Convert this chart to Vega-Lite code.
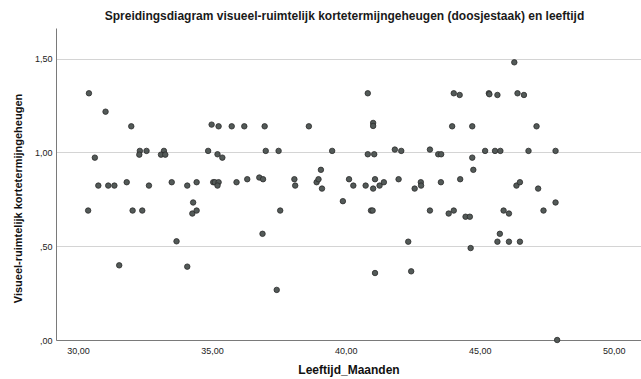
{
  "$schema": "https://vega.github.io/schema/vega-lite/v6.json",
  "width": 585,
  "height": 312,
  "autosize": {"type": "none"},
  "padding": {"left": 56, "top": 28, "right": 0, "bottom": 39},
  "background": "white",
  "config": {"view": {"stroke": null}, "font": "Liberation Sans"},
  "title": {
    "text": "Spreidingsdiagram visueel-ruimtelijk kortetermijngeheugen (doosjestaak) en leeftijd",
    "fontSize": 12,
    "fontWeight": "bold",
    "color": "#1a1a1a",
    "anchor": "middle",
    "dx": -4,
    "offset": 5
  },
  "data": {
    "values": [
      {"leeftijd": 30.41, "score": 1.315},
      {"leeftijd": 31.03, "score": 1.217},
      {"leeftijd": 31.99, "score": 1.139},
      {"leeftijd": 30.63, "score": 0.972},
      {"leeftijd": 32.31, "score": 1.008},
      {"leeftijd": 32.29, "score": 0.988},
      {"leeftijd": 32.56, "score": 1.008},
      {"leeftijd": 33.21, "score": 1.008},
      {"leeftijd": 33.10, "score": 0.988},
      {"leeftijd": 33.26, "score": 0.988},
      {"leeftijd": 34.99, "score": 1.148},
      {"leeftijd": 35.25, "score": 1.139},
      {"leeftijd": 35.74, "score": 1.139},
      {"leeftijd": 36.21, "score": 1.139},
      {"leeftijd": 34.86, "score": 1.008},
      {"leeftijd": 35.21, "score": 0.990},
      {"leeftijd": 35.39, "score": 0.972},
      {"leeftijd": 30.76, "score": 0.823},
      {"leeftijd": 31.13, "score": 0.823},
      {"leeftijd": 31.36, "score": 0.823},
      {"leeftijd": 31.82, "score": 0.841},
      {"leeftijd": 32.65, "score": 0.823},
      {"leeftijd": 33.50, "score": 0.841},
      {"leeftijd": 34.08, "score": 0.823},
      {"leeftijd": 34.43, "score": 0.841},
      {"leeftijd": 35.05, "score": 0.841},
      {"leeftijd": 35.11, "score": 0.841},
      {"leeftijd": 35.25, "score": 0.841},
      {"leeftijd": 35.21, "score": 0.823},
      {"leeftijd": 35.92, "score": 0.841},
      {"leeftijd": 36.32, "score": 0.857},
      {"leeftijd": 36.77, "score": 0.866},
      {"leeftijd": 36.91, "score": 0.857},
      {"leeftijd": 30.38, "score": 0.690},
      {"leeftijd": 32.04, "score": 0.690},
      {"leeftijd": 32.40, "score": 0.690},
      {"leeftijd": 34.30, "score": 0.733},
      {"leeftijd": 34.27, "score": 0.674},
      {"leeftijd": 34.43, "score": 0.690},
      {"leeftijd": 33.68, "score": 0.526},
      {"leeftijd": 31.54, "score": 0.398},
      {"leeftijd": 34.08, "score": 0.391},
      {"leeftijd": 36.97, "score": 1.139},
      {"leeftijd": 37.01, "score": 1.008},
      {"leeftijd": 37.49, "score": 1.008},
      {"leeftijd": 38.62, "score": 1.139},
      {"leeftijd": 39.49, "score": 1.008},
      {"leeftijd": 40.82, "score": 1.315},
      {"leeftijd": 41.02, "score": 1.157},
      {"leeftijd": 41.02, "score": 1.141},
      {"leeftijd": 40.82, "score": 0.990},
      {"leeftijd": 41.06, "score": 0.990},
      {"leeftijd": 41.83, "score": 1.015},
      {"leeftijd": 42.07, "score": 1.008},
      {"leeftijd": 43.14, "score": 1.015},
      {"leeftijd": 43.45, "score": 0.990},
      {"leeftijd": 43.56, "score": 0.990},
      {"leeftijd": 39.07, "score": 0.907},
      {"leeftijd": 37.55, "score": 0.690},
      {"leeftijd": 36.89, "score": 0.566},
      {"leeftijd": 37.42, "score": 0.267},
      {"leeftijd": 38.08, "score": 0.857},
      {"leeftijd": 38.11, "score": 0.823},
      {"leeftijd": 38.91, "score": 0.841},
      {"leeftijd": 38.98, "score": 0.857},
      {"leeftijd": 39.11, "score": 0.807},
      {"leeftijd": 39.89, "score": 0.740},
      {"leeftijd": 40.12, "score": 0.857},
      {"leeftijd": 40.28, "score": 0.823},
      {"leeftijd": 40.74, "score": 0.823},
      {"leeftijd": 40.94, "score": 0.690},
      {"leeftijd": 41.00, "score": 0.690},
      {"leeftijd": 41.09, "score": 0.857},
      {"leeftijd": 41.02, "score": 0.807},
      {"leeftijd": 41.26, "score": 0.823},
      {"leeftijd": 41.42, "score": 0.841},
      {"leeftijd": 41.09, "score": 0.357},
      {"leeftijd": 41.97, "score": 0.857},
      {"leeftijd": 42.33, "score": 0.524},
      {"leeftijd": 42.44, "score": 0.366},
      {"leeftijd": 42.57, "score": 0.807},
      {"leeftijd": 42.80, "score": 0.841},
      {"leeftijd": 42.81, "score": 0.823},
      {"leeftijd": 43.14, "score": 0.690},
      {"leeftijd": 43.55, "score": 0.841},
      {"leeftijd": 43.84, "score": 0.674},
      {"leeftijd": 46.29, "score": 1.480},
      {"leeftijd": 44.03, "score": 1.315},
      {"leeftijd": 44.25, "score": 1.306},
      {"leeftijd": 45.34, "score": 1.315},
      {"leeftijd": 45.36, "score": 1.310},
      {"leeftijd": 45.66, "score": 1.306},
      {"leeftijd": 46.41, "score": 1.315},
      {"leeftijd": 46.65, "score": 1.306},
      {"leeftijd": 43.97, "score": 1.139},
      {"leeftijd": 44.72, "score": 1.139},
      {"leeftijd": 47.12, "score": 1.139},
      {"leeftijd": 44.72, "score": 0.972},
      {"leeftijd": 44.76, "score": 0.907},
      {"leeftijd": 45.20, "score": 1.008},
      {"leeftijd": 45.57, "score": 1.008},
      {"leeftijd": 45.77, "score": 1.008},
      {"leeftijd": 46.82, "score": 1.008},
      {"leeftijd": 47.83, "score": 1.008},
      {"leeftijd": 44.27, "score": 0.857},
      {"leeftijd": 46.37, "score": 0.823},
      {"leeftijd": 46.50, "score": 0.841},
      {"leeftijd": 47.18, "score": 0.807},
      {"leeftijd": 47.83, "score": 0.733},
      {"leeftijd": 44.03, "score": 0.690},
      {"leeftijd": 44.47, "score": 0.657},
      {"leeftijd": 44.63, "score": 0.657},
      {"leeftijd": 45.89, "score": 0.690},
      {"leeftijd": 46.09, "score": 0.674},
      {"leeftijd": 47.38, "score": 0.690},
      {"leeftijd": 45.75, "score": 0.566},
      {"leeftijd": 45.66, "score": 0.524},
      {"leeftijd": 46.09, "score": 0.524},
      {"leeftijd": 46.50, "score": 0.524},
      {"leeftijd": 44.66, "score": 0.490},
      {"leeftijd": 47.89, "score": 0.0}
    ]
  },
  "mark": {
    "type": "circle",
    "size": 30,
    "fill": "#535a58",
    "fillOpacity": 1,
    "stroke": "#2b2b2b",
    "strokeWidth": 0.8,
    "clip": false
  },
  "encoding": {
    "x": {
      "field": "leeftijd",
      "type": "quantitative",
      "title": "Leeftijd_Maanden",
      "scale": {"domain": [29.18, 51.02], "nice": false, "zero": false},
      "axis": {
        "values": [30, 35, 40, 45, 50],
        "labelExpr": "replace(format(datum.value, '.2f'), '.', ',')",
        "grid": false,
        "ticks": false,
        "domainColor": "#7a7a7a",
        "domainWidth": 1,
        "labelFontSize": 9,
        "labelColor": "#222222",
        "labelPadding": 6,
        "titleFontSize": 12,
        "titleFontWeight": "bold",
        "titleColor": "#111111",
        "titlePadding": 9
      }
    },
    "y": {
      "field": "score",
      "type": "quantitative",
      "title": "Visueel-ruimtelijk kortetermijngeheugen",
      "scale": {"domain": [0, 1.663], "nice": false, "zero": true},
      "axis": {
        "values": [0, 0.5, 1, 1.5],
        "labelExpr": "datum.value < 1 ? replace(format(datum.value, '.2f'), '0.', ',') : replace(format(datum.value, '.2f'), '.', ',')",
        "grid": true,
        "gridColor": "#d4d4d4",
        "gridWidth": 1,
        "ticks": false,
        "domainColor": "#7a7a7a",
        "domainWidth": 1,
        "labelFontSize": 9,
        "labelColor": "#222222",
        "labelPadding": 4,
        "titleFontSize": 11,
        "titleFontWeight": "bold",
        "titleColor": "#111111",
        "titlePadding": 11,
        "titleY": 170
      }
    }
  }
}
